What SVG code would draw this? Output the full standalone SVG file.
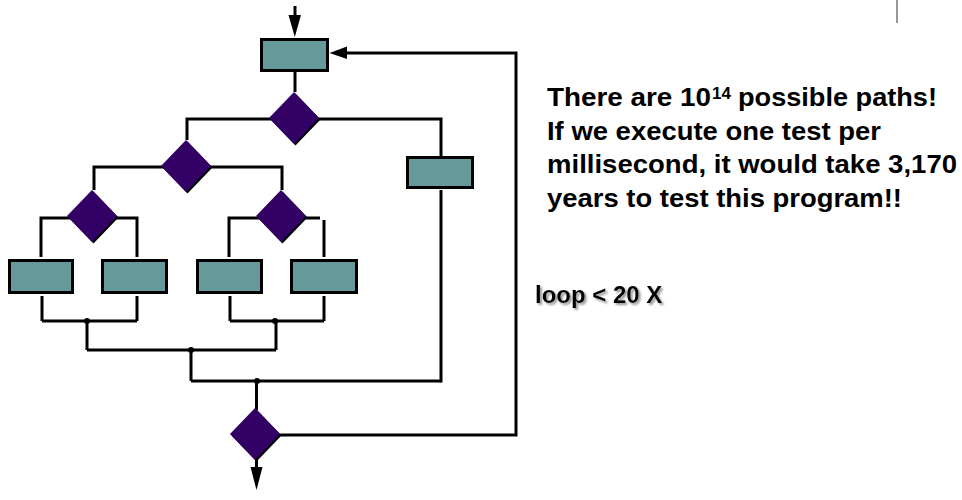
<svg xmlns="http://www.w3.org/2000/svg" width="962" height="500" viewBox="0 0 962 500">
<defs>
<style>
.box{fill:#669999;stroke:#000;stroke-width:3}
.dia{fill:#330066}
.dsh{fill:#000}
.ln{stroke:#000;stroke-width:3;fill:none;stroke-linecap:butt}
.dot{fill:#000}
.ah{fill:#000}
.t{font-family:"Liberation Sans",Arial,sans-serif;font-weight:bold;fill:#000}
</style>
<filter id="sh" x="-10%" y="-30%" width="130%" height="180%">
<feDropShadow dx="2" dy="2" stdDeviation="1" flood-color="#8a8a8a" flood-opacity="0.9"/>
</filter>
<polygon id="diamond" points="0,-26 25,0 0,26 -25,0"/>
</defs>
<rect width="962" height="500" fill="#fff"/>

<g id="connectors">
<line class="ln" x1="295" y1="6" x2="295" y2="20"/>
<polygon class="ah" points="288.5,15 301,15 294.8,37"/>
<line class="ln" x1="295" y1="72" x2="295" y2="92"/>
<polyline class="ln" points="187,140 187,119 441,119 441,157"/>
<polyline class="ln" points="94,190 94,167 282,167 282,190"/>
<polyline class="ln" points="41,257 41,218 137,218 137,257"/>
<polyline class="ln" points="229,257 229,218 320,218"/>
<line class="ln" x1="324" y1="220" x2="324" y2="257"/>
<line class="ln" x1="42" y1="296" x2="42" y2="321"/>
<line class="ln" x1="137" y1="296" x2="137" y2="321"/>
<line class="ln" x1="230" y1="296" x2="230" y2="321"/>
<line class="ln" x1="324" y1="296" x2="324" y2="321"/>
<line class="ln" x1="42" y1="321" x2="137" y2="321"/>
<line class="ln" x1="230" y1="321" x2="324" y2="321"/>
<line class="ln" x1="87" y1="321" x2="87" y2="350"/>
<line class="ln" x1="276" y1="321" x2="276" y2="350"/>
<line class="ln" x1="87" y1="350" x2="276" y2="350"/>
<line class="ln" x1="191" y1="350" x2="191" y2="381"/>
<line class="ln" x1="191" y1="381" x2="441" y2="381"/>
<line class="ln" x1="441" y1="190" x2="441" y2="382.5"/>
<line class="ln" x1="256.5" y1="381" x2="256.5" y2="410"/>
<polyline class="ln" points="278,435 516,435 516,53 346,53"/>
<polygon class="ah" points="347,46.5 347,59 329.5,53"/>
<line class="ln" x1="256.5" y1="458" x2="256.5" y2="470"/>
<polygon class="ah" points="250.5,467 262.5,467 256.5,490"/>
<circle class="dot" cx="87" cy="321" r="3"/>
<circle class="dot" cx="275" cy="321" r="3"/>
<circle class="dot" cx="191" cy="350" r="3"/>
<circle class="dot" cx="257" cy="381" r="3"/>
<line x1="897" y1="0" x2="897" y2="23" stroke="#333" stroke-width="1"/>
</g>

<g id="box-top"><rect class="box" x="261.5" y="39.5" width="66" height="31"/></g>
<g id="decision-1"><use href="#diamond" class="dsh" x="295.5" y="119.5"/><use href="#diamond" class="dia" x="294" y="118"/></g>
<g id="decision-2"><use href="#diamond" class="dsh" x="187.5" y="167.5"/><use href="#diamond" class="dia" x="186" y="166"/></g>
<g id="box-right"><rect class="box" x="407.5" y="157.5" width="65" height="30"/></g>
<g id="decision-3"><use href="#diamond" class="dsh" x="93.5" y="217.5"/><use href="#diamond" class="dia" x="92" y="216"/></g>
<g id="decision-4"><use href="#diamond" class="dsh" x="282.5" y="217.5"/><use href="#diamond" class="dia" x="281" y="216"/></g>
<g id="box-1"><rect class="box" x="9.5" y="260.5" width="63" height="32"/></g>
<g id="box-2"><rect class="box" x="102.5" y="260.5" width="64" height="32"/></g>
<g id="box-3"><rect class="box" x="197.5" y="260.5" width="64" height="32"/></g>
<g id="box-4"><rect class="box" x="291.5" y="260.5" width="65" height="32"/></g>
<g id="decision-5"><use href="#diamond" class="dsh" x="256.5" y="435.5"/><use href="#diamond" class="dia" x="255" y="434"/></g>

<g id="text-note">
<text class="t" x="547" y="106" font-size="26" textLength="164" lengthAdjust="spacingAndGlyphs">There are 10</text>
<text class="t" x="712" y="99" font-size="17">14</text>
<text class="t" x="738" y="106" font-size="26" textLength="199" lengthAdjust="spacingAndGlyphs">possible paths!</text>
<text class="t" x="547" y="139.5" font-size="26" textLength="334" lengthAdjust="spacingAndGlyphs">If we execute one test per</text>
<text class="t" x="547" y="173" font-size="26" textLength="410" lengthAdjust="spacingAndGlyphs">millisecond, it would take 3,170</text>
<text class="t" x="547" y="206.5" font-size="26" textLength="355" lengthAdjust="spacingAndGlyphs">years to test this program!!</text>
</g>
<g id="text-loop">
<text class="t" x="535" y="303" font-size="24" filter="url(#sh)">loop &lt; 20 X</text>
</g>
</svg>
